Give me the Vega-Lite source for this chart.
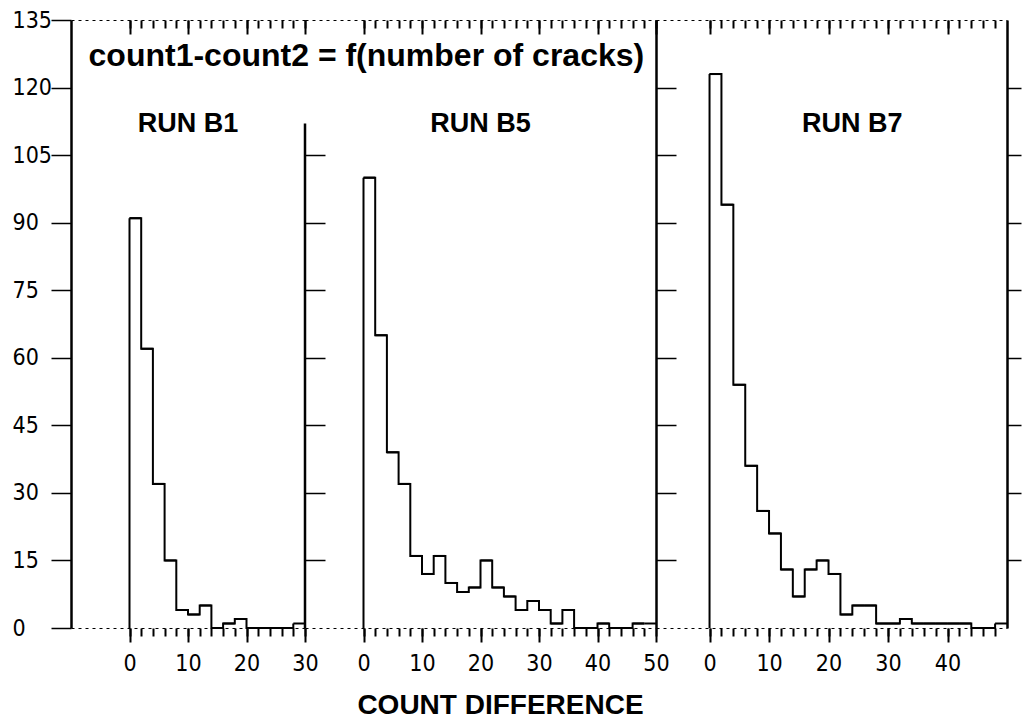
{
  "$schema": "https://vega.github.io/schema/vega-lite/v6.json",
  "background": "white",
  "padding": {"left": 12, "top": 9, "right": 0, "bottom": 0},
  "spacing": 0,
  "bounds": "flush",
  "config": {
    "view": {"stroke": null},
    "axis": {"grid": false, "ticks": true, "domainColor": "black", "tickColor": "black", "tickOpacity": 1, "labelColor": "black", "titleColor": "black", "tickWidth": 2, "zindex": 1}
  },
  "datasets": {
    "hist": [
      {"run": "B1", "lo": 0, "hi": 2, "n": 91}, {"run": "B1", "lo": 2, "hi": 4, "n": 62}, {"run": "B1", "lo": 4, "hi": 6, "n": 32},
      {"run": "B1", "lo": 6, "hi": 8, "n": 15}, {"run": "B1", "lo": 8, "hi": 10, "n": 4}, {"run": "B1", "lo": 10, "hi": 12, "n": 3},
      {"run": "B1", "lo": 12, "hi": 14, "n": 5}, {"run": "B1", "lo": 14, "hi": 16, "n": 0}, {"run": "B1", "lo": 16, "hi": 18, "n": 1},
      {"run": "B1", "lo": 18, "hi": 20, "n": 2}, {"run": "B1", "lo": 20, "hi": 22, "n": 0}, {"run": "B1", "lo": 22, "hi": 24, "n": 0},
      {"run": "B1", "lo": 24, "hi": 26, "n": 0}, {"run": "B1", "lo": 26, "hi": 28, "n": 0}, {"run": "B1", "lo": 28, "hi": 30, "n": 1},
      {"run": "B5", "lo": 0, "hi": 2, "n": 100}, {"run": "B5", "lo": 2, "hi": 4, "n": 65}, {"run": "B5", "lo": 4, "hi": 6, "n": 39},
      {"run": "B5", "lo": 6, "hi": 8, "n": 32}, {"run": "B5", "lo": 8, "hi": 10, "n": 16}, {"run": "B5", "lo": 10, "hi": 12, "n": 12},
      {"run": "B5", "lo": 12, "hi": 14, "n": 16}, {"run": "B5", "lo": 14, "hi": 16, "n": 10}, {"run": "B5", "lo": 16, "hi": 18, "n": 8},
      {"run": "B5", "lo": 18, "hi": 20, "n": 9}, {"run": "B5", "lo": 20, "hi": 22, "n": 15}, {"run": "B5", "lo": 22, "hi": 24, "n": 9},
      {"run": "B5", "lo": 24, "hi": 26, "n": 7}, {"run": "B5", "lo": 26, "hi": 28, "n": 4}, {"run": "B5", "lo": 28, "hi": 30, "n": 6},
      {"run": "B5", "lo": 30, "hi": 32, "n": 4}, {"run": "B5", "lo": 32, "hi": 34, "n": 1}, {"run": "B5", "lo": 34, "hi": 36, "n": 4},
      {"run": "B5", "lo": 36, "hi": 38, "n": 0}, {"run": "B5", "lo": 38, "hi": 40, "n": 0}, {"run": "B5", "lo": 40, "hi": 42, "n": 1},
      {"run": "B5", "lo": 42, "hi": 44, "n": 0}, {"run": "B5", "lo": 44, "hi": 46, "n": 0}, {"run": "B5", "lo": 46, "hi": 48, "n": 1},
      {"run": "B5", "lo": 48, "hi": 50, "n": 1},
      {"run": "B7", "lo": 0, "hi": 2, "n": 123}, {"run": "B7", "lo": 2, "hi": 4, "n": 94}, {"run": "B7", "lo": 4, "hi": 6, "n": 54},
      {"run": "B7", "lo": 6, "hi": 8, "n": 36}, {"run": "B7", "lo": 8, "hi": 10, "n": 26}, {"run": "B7", "lo": 10, "hi": 12, "n": 21},
      {"run": "B7", "lo": 12, "hi": 14, "n": 13}, {"run": "B7", "lo": 14, "hi": 16, "n": 7}, {"run": "B7", "lo": 16, "hi": 18, "n": 13},
      {"run": "B7", "lo": 18, "hi": 20, "n": 15}, {"run": "B7", "lo": 20, "hi": 22, "n": 12}, {"run": "B7", "lo": 22, "hi": 24, "n": 3},
      {"run": "B7", "lo": 24, "hi": 26, "n": 5}, {"run": "B7", "lo": 26, "hi": 28, "n": 5}, {"run": "B7", "lo": 28, "hi": 30, "n": 1},
      {"run": "B7", "lo": 30, "hi": 32, "n": 1}, {"run": "B7", "lo": 32, "hi": 34, "n": 2}, {"run": "B7", "lo": 34, "hi": 36, "n": 1},
      {"run": "B7", "lo": 36, "hi": 38, "n": 1}, {"run": "B7", "lo": 38, "hi": 40, "n": 1}, {"run": "B7", "lo": 40, "hi": 42, "n": 1},
      {"run": "B7", "lo": 42, "hi": 44, "n": 1}, {"run": "B7", "lo": 44, "hi": 46, "n": 0}, {"run": "B7", "lo": 46, "hi": 48, "n": 0},
      {"run": "B7", "lo": 48, "hi": 50, "n": 1}
    ]
  },
  "hconcat": [
    {
      "width": 234,
      "height": 608,
      "data": {"name": "hist"},
      "transform": [{"filter": "datum.run === 'B1'"}],
      "resolve": {"axis": {"x": "independent", "y": "independent"}},
      "layer": [
        {
          "mark": {"type": "rule", "strokeWidth": 2, "color": "black"},
          "encoding": {
            "x": {"field": "lo", "type": "quantitative", "scale": {"domain": [-10, 30], "nice": false, "zero": false},
              "axis": {"orient": "bottom", "values": [0, 10, 20, 30], "ticks": true, "tickSize": 14, "tickWidth": 2, "tickColor": "black", "domainDash": [3, 4], "domainWidth": 1,
                "labelFont": "DejaVu Sans Condensed, Liberation Sans Narrow, sans-serif", "labelFontSize": 23,
                "labelBaseline": "middle", "labelPadding": 21, "labelOverlap": false, "labelFlush": false, "title": null}},
            "x2": {"field": "hi"},
            "y": {"field": "n", "type": "quantitative", "scale": {"domain": [0, 135], "nice": false},
              "axis": {"orient": "left", "values": [0,15,30,45,60,75,90,105,120,135], "tickSize": 20, "tickWidth": 1.5,
                "domainWidth": 2.5, "labelFont": "DejaVu Sans Condensed, Liberation Sans Narrow, sans-serif", "labelFontSize": 23,
                "labelAlign": "left", "labelBaseline": "middle", "labelPadding": 39, "labelFlush": false, "labelOverlap": false, "title": null}}
          }
        },
        {
          "mark": {"type": "line", "interpolate": "step-after", "strokeWidth": 2, "color": "black"},
          "encoding": {
            "x": {"field": "lo", "type": "quantitative",
              "axis": {"orient": "top", "values": [0, 10, 20, 30], "ticks": true, "labels": false, "tickSize": -14, "tickWidth": 2, "tickColor": "black",
                "domainDash": [3, 4], "domainWidth": 1, "title": null}},
            "y": {"field": "n", "type": "quantitative", "axis": null}
          }
        },
        {
          "transform": [{"filter": "datum.lo === 0"}],
          "mark": {"type": "rule", "strokeWidth": 2, "color": "black"},
          "encoding": {
            "x": {"field": "lo", "type": "quantitative",
              "axis": {"orient": "bottom", "values": [0,2,4,6,8,10,12,14,16,18,20,22,24,26,28,30], "ticks": true, "labels": false,
                "tickSize": 8, "tickWidth": 2, "tickColor": "black", "domain": false, "title": null}},
            "y": {"field": "n", "type": "quantitative", "axis": null},
            "y2": {"datum": 0}
          }
        },
        {
          "data": {"values": [{}]},
          "mark": {"type": "rule", "strokeWidth": 2.5, "color": "black"},
          "encoding": {
            "x": {"datum": 30, "type": "quantitative", "axis": null},
            "y": {"datum": 112, "type": "quantitative", "axis": null},
            "y2": {"datum": 0}
          }
        },
        {
          "data": {"values": [{}]},
          "mark": {"type": "text", "align": "left", "baseline": "middle", "font": "Liberation Sans", "fontWeight": "bold", "fontSize": 32, "color": "black"},
          "encoding": {
            "x": {"datum": -7, "type": "quantitative", "axis": null},
            "y": {"datum": 127, "type": "quantitative", "axis": null},
            "text": {"value": "count1-count2 = f(number of cracks)"}
          }
        },
        {
          "data": {"values": [{}]},
          "mark": {"type": "text", "align": "center", "baseline": "middle", "font": "Liberation Sans", "fontWeight": "bold", "fontSize": 27, "color": "black"},
          "encoding": {
            "x": {"datum": 10, "type": "quantitative",
              "axis": {"orient": "top", "values": [0,2,4,6,8,10,12,14,16,18,20,22,24,26,28,30], "ticks": true, "labels": false,
                "tickSize": -8, "tickWidth": 2, "tickColor": "black", "domain": false, "title": null}},
            "y": {"datum": 112, "type": "quantitative", "axis": null},
            "text": {"value": "RUN B1"}
          }
        }
      ]
    },
    {
      "width": 351,
      "height": 608,
      "data": {"name": "hist"},
      "transform": [{"filter": "datum.run === 'B5'"}],
      "resolve": {"axis": {"x": "independent", "y": "independent"}},
      "layer": [
        {
          "mark": {"type": "rule", "strokeWidth": 2, "color": "black"},
          "encoding": {
            "x": {"field": "lo", "type": "quantitative", "scale": {"domain": [-10, 50], "nice": false, "zero": false},
              "axis": {"orient": "bottom", "values": [0, 10, 20, 30, 40, 50], "ticks": true, "tickSize": 14, "tickWidth": 2, "tickColor": "black", "domainDash": [3, 4], "domainWidth": 1,
                "labelFont": "DejaVu Sans Condensed, Liberation Sans Narrow, sans-serif", "labelFontSize": 23,
                "labelBaseline": "middle", "labelPadding": 21, "labelOverlap": false, "labelFlush": false,
                "title": "COUNT DIFFERENCE", "titleFont": "Liberation Sans", "titleFontWeight": "bold", "titleFontSize": 28,
                "titleX": 195, "titleY": 77, "titleBaseline": "middle", "titleAlign": "center"}},
            "x2": {"field": "hi"},
            "y": {"field": "n", "type": "quantitative", "scale": {"domain": [0, 135], "nice": false},
              "axis": {"orient": "left", "values": [15,30,45,60,75,90,105], "tickSize": -20, "tickWidth": 1.5,
                "labels": false, "domain": false, "title": null}}
          }
        },
        {
          "mark": {"type": "line", "interpolate": "step-after", "strokeWidth": 2, "color": "black"},
          "encoding": {
            "x": {"field": "lo", "type": "quantitative",
              "axis": {"orient": "top", "values": [0, 10, 20, 30, 40, 50], "ticks": true, "labels": false, "tickSize": -14, "tickWidth": 2, "tickColor": "black",
                "domainDash": [3, 4], "domainWidth": 1, "title": null}},
            "y": {"field": "n", "type": "quantitative", "axis": null}
          }
        },
        {
          "transform": [{"filter": "datum.lo === 0"}],
          "mark": {"type": "rule", "strokeWidth": 2, "color": "black"},
          "encoding": {
            "x": {"field": "lo", "type": "quantitative",
              "axis": {"orient": "bottom", "values": [0,2,4,6,8,10,12,14,16,18,20,22,24,26,28,30,32,34,36,38,40,42,44,46,48,50], "ticks": true, "labels": false,
                "tickSize": 8, "tickWidth": 2, "tickColor": "black", "domain": false, "title": null}},
            "y": {"field": "n", "type": "quantitative", "axis": null},
            "y2": {"datum": 0}
          }
        },
        {
          "data": {"values": [{}]},
          "mark": {"type": "text", "align": "center", "baseline": "middle", "font": "Liberation Sans", "fontWeight": "bold", "fontSize": 27, "color": "black"},
          "encoding": {
            "x": {"datum": 20, "type": "quantitative",
              "axis": {"orient": "top", "values": [0,2,4,6,8,10,12,14,16,18,20,22,24,26,28,30,32,34,36,38,40,42,44,46,48,50], "ticks": true, "labels": false,
                "tickSize": -8, "tickWidth": 2, "tickColor": "black", "domain": false, "title": null}},
            "y": {"datum": 112, "type": "quantitative", "axis": null},
            "text": {"value": "RUN B5"}
          }
        }
      ]
    },
    {
      "width": 351,
      "height": 608,
      "data": {"name": "hist"},
      "transform": [{"filter": "datum.run === 'B7'"}],
      "resolve": {"axis": {"x": "independent", "y": "independent"}},
      "layer": [
        {
          "mark": {"type": "rule", "strokeWidth": 2, "color": "black"},
          "encoding": {
            "x": {"field": "lo", "type": "quantitative", "scale": {"domain": [-9, 50], "nice": false, "zero": false},
              "axis": {"orient": "bottom", "values": [0, 10, 20, 30, 40], "ticks": true, "tickSize": 14, "tickWidth": 2, "tickColor": "black", "domainDash": [3, 4], "domainWidth": 1,
                "labelFont": "DejaVu Sans Condensed, Liberation Sans Narrow, sans-serif", "labelFontSize": 23,
                "labelBaseline": "middle", "labelPadding": 21, "labelOverlap": false, "labelFlush": false, "title": null}},
            "x2": {"field": "hi"},
            "y": {"field": "n", "type": "quantitative", "scale": {"domain": [0, 135], "nice": false},
              "axis": {"orient": "left", "values": [15,30,45,60,75,90,105,120], "tickSize": -20, "tickWidth": 1.5,
                "labels": false, "domainWidth": 2.5, "title": null}}
          }
        },
        {
          "mark": {"type": "line", "interpolate": "step-after", "strokeWidth": 2, "color": "black"},
          "encoding": {
            "x": {"field": "lo", "type": "quantitative",
              "axis": {"orient": "top", "values": [0, 10, 20, 30, 40], "ticks": true, "labels": false, "tickSize": -14, "tickWidth": 2, "tickColor": "black",
                "domainDash": [3, 4], "domainWidth": 1, "title": null}},
            "y": {"field": "n", "type": "quantitative",
              "axis": {"orient": "right", "values": [15,30,45,60,75,90,105,120], "tickSize": 14, "tickWidth": 1.5,
                "labels": false, "domainWidth": 2.5, "title": null}}
          }
        },
        {
          "transform": [{"filter": "datum.lo === 0"}],
          "mark": {"type": "rule", "strokeWidth": 2, "color": "black"},
          "encoding": {
            "x": {"field": "lo", "type": "quantitative",
              "axis": {"orient": "bottom", "values": [0,2,4,6,8,10,12,14,16,18,20,22,24,26,28,30,32,34,36,38,40,42,44,46,48], "ticks": true, "labels": false,
                "tickSize": 8, "tickWidth": 2, "tickColor": "black", "domain": false, "title": null}},
            "y": {"field": "n", "type": "quantitative", "axis": null},
            "y2": {"datum": 0}
          }
        },
        {
          "data": {"values": [{}]},
          "mark": {"type": "text", "align": "center", "baseline": "middle", "font": "Liberation Sans", "fontWeight": "bold", "fontSize": 27, "color": "black"},
          "encoding": {
            "x": {"datum": 24, "type": "quantitative",
              "axis": {"orient": "top", "values": [0,2,4,6,8,10,12,14,16,18,20,22,24,26,28,30,32,34,36,38,40,42,44,46,48], "ticks": true, "labels": false,
                "tickSize": -8, "tickWidth": 2, "tickColor": "black", "domain": false, "title": null}},
            "y": {"datum": 112, "type": "quantitative", "axis": null},
            "text": {"value": "RUN B7"}
          }
        }
      ]
    }
  ]
}
